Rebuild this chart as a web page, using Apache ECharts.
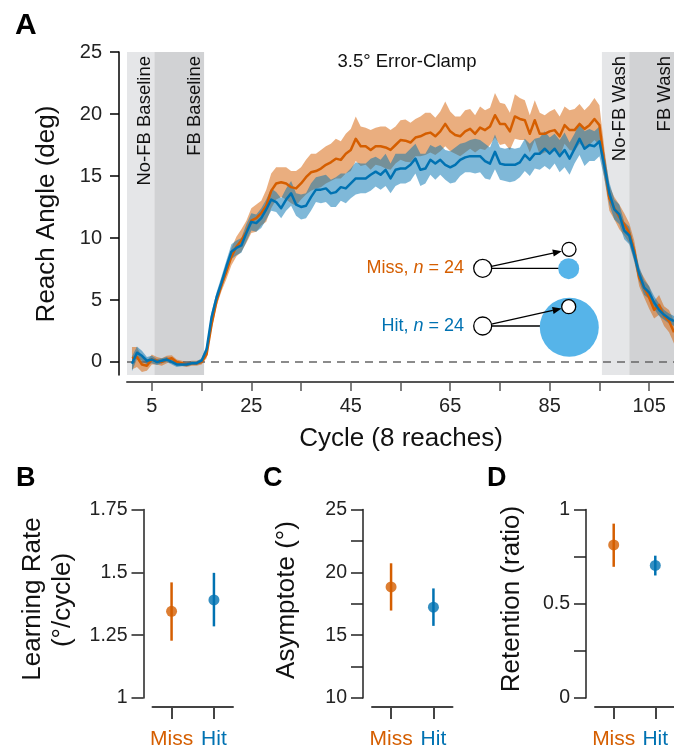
<!DOCTYPE html>
<html>
<head>
<meta charset="utf-8">
<script src="https://cdn.jsdelivr.net/npm/echarts@6/dist/echarts.min.js"></script>
<style>
html,body{margin:0;padding:0;background:#fff;}
#chart{width:674px;height:750px;}
</style>
</head>
<body>
<div id="chart"></div>
<script>
// ---------------- DATA ----------------
const cycles = [1,2,3,4,5,6,7,8,9,10,11,12,13,14,15,16,17,18,19,20,21,22,23,24,25,26,27,28,29,30,
31,32,33,34,35,36,37,38,39,40,41,42,43,44,45,46,47,48,49,50,51,52,53,54,55,56,57,58,59,60,
61,62,63,64,65,66,67,68,69,70,71,72,73,74,75,76,77,78,79,80,81,82,83,84,85,86,87,88,89,90,
91,92,93,94,95,96,97,98,99,100,101,102,103,104,105,106,107,108,109,110];

const missMean = [0.3,0.4,-0.2,-0.3,0.2,0.1,0.0,0.2,0.3,0.0,-0.1,-0.2,-0.1,-0.1,0.0,
0.6,3.0,4.9,6.2,7.3,8.5,9.3,9.8,10.5,11.4,11.6,12.0,12.6,13.8,14.4,
14.5,14.4,14.1,14.0,14.4,14.9,15.3,15.4,15.6,15.9,
16.1,16.4,16.3,16.8,17.1,18.0,17.4,17.4,17.1,17.4,17.4,17.3,17.1,17.5,17.9,17.85,17.7,18.1,18.2,18.4,
18.5,18.2,18.6,19.2,18.6,18.3,18.2,18.6,18.8,18.4,18.9,18.7,19.0,19.9,19.2,19.2,18.6,19.8,19.6,19.5,
18.4,19.5,18.4,18.4,18.6,18.7,18.2,19.1,18.7,18.7,19.2,18.8,19.1,19.6,19.1,
16.0,13.2,12.4,11.7,11.1,10.4,9.0,6.8,6.0,5.2,4.2,4.6,3.7,3.3,2.4];

const missSem = [0.9,0.8,0.6,0.4,0.4,0.3,0.3,0.3,0.25,0.2,0.2,0.2,0.2,0.2,0.2,
0.3,0.4,0.4,0.5,0.6,0.7,0.8,0.9,0.9,1.0,1.1,1.0,1.3,1.4,1.3,
1.2,1.3,1.3,1.4,1.3,1.4,1.5,1.4,1.5,1.5,
1.5,1.6,1.5,1.6,1.7,1.8,1.6,1.5,1.6,1.5,1.6,1.7,1.6,1.5,1.6,1.7,1.6,1.5,1.6,1.7,
1.6,1.5,1.6,1.8,1.6,1.5,1.6,1.7,1.6,1.5,1.7,1.6,1.5,1.8,1.7,1.6,1.5,1.8,1.7,1.6,
1.5,1.6,1.7,1.5,1.6,1.7,1.6,1.5,1.6,1.7,1.6,1.5,1.6,1.7,1.6,
1.2,1.0,0.9,1.0,0.9,0.8,0.8,0.7,0.8,0.9,0.7,0.8,0.8,0.9,0.9];

const hitMean = [-0.15,0.75,0.5,0.1,0.2,0.0,0.1,0.2,0.0,-0.2,-0.2,-0.2,-0.1,-0.1,0.1,
1.0,3.6,5.2,6.4,7.7,8.9,9.2,9.4,10.4,11.3,11.2,11.6,12.3,13.1,12.9,
12.4,13.1,13.6,12.7,12.5,12.6,13.3,13.9,13.9,14.0,
13.6,13.7,14.1,14.0,14.4,14.8,14.8,14.8,15.1,15.35,15.1,15.5,14.8,15.5,15.6,15.6,15.9,16.4,15.5,15.6,
16.3,16.0,16.3,15.9,15.7,15.9,16.3,16.5,16.6,16.6,16.6,16.2,16.0,16.95,16.0,15.9,15.9,15.9,16.1,16.7,
16.3,16.8,16.8,17.2,16.8,17.2,16.6,17.1,16.4,17.2,18.0,17.2,17.5,17.4,17.8,
15.8,13.6,12.3,11.9,10.6,10.2,8.7,7.1,6.0,5.6,4.8,4.2,3.8,3.5,3.3];

const hitSem = [0.6,0.5,0.4,0.3,0.3,0.25,0.2,0.2,0.2,0.2,0.15,0.15,0.15,0.15,0.2,
0.3,0.4,0.4,0.5,0.5,0.6,0.6,0.6,0.7,0.7,0.7,0.8,0.8,0.9,0.8,
0.8,0.9,1.0,0.9,1.0,1.0,1.1,1.0,1.1,1.1,
1.1,1.2,1.1,1.2,1.2,1.3,1.2,1.2,1.3,1.2,1.2,1.3,1.2,1.3,1.2,1.2,1.3,1.2,1.3,1.2,
1.2,1.3,1.2,1.2,1.3,1.4,1.3,1.2,1.3,1.4,1.3,1.4,1.3,1.4,1.3,1.3,1.4,1.3,1.2,1.3,
1.3,1.2,1.3,1.4,1.3,1.2,1.3,1.4,1.3,1.2,1.3,1.4,1.3,1.2,1.2,
1.0,0.9,0.8,0.8,0.7,0.7,0.6,0.6,0.6,0.5,0.5,0.5,0.4,0.4,0.4];

const phaseStart = [0, 5.5, 95.5, 101];
const phaseEnd   = [5.5, 15.5, 101, 110];
const phaseNames = ['No-FB Baseline', 'FB Baseline', 'No-FB Wash', 'FB Wash'];
const phaseIsFB  = [0, 1, 0, 1];
const clampLabel = '3.5° Error-Clamp';

const yTickVals = [0, 5, 10, 15, 20, 25];
const xTickVals = [5, 15, 25, 35, 45, 55, 65, 75, 85, 95, 105];
const xLabelVals = [5, 25, 45, 65, 85, 105];

const groups = ['Miss', 'Hit'];
const groupN = [24, 24];
const rateMean = [1.345, 1.39], rateLo = [1.228, 1.285], rateHi = [1.46, 1.498];
const asymMean = [18.84, 17.23], asymLo = [16.96, 15.74], asymHi = [20.72, 18.72];
const retMean = [0.812, 0.703], retLo = [0.696, 0.65], retHi = [0.925, 0.755];

// ---------------- STYLE ----------------
const FONT = "'Liberation Sans', Arial, Helvetica, sans-serif";
const ORANGE = '#D55E00', BLUE = '#0072B2', LIGHTBLUE = '#56B4E9';
const groupColors = [ORANGE, BLUE];
const shadeColors = ['#E5E6E8', '#D1D2D4'];

const chart = echarts.init(document.getElementById('chart'), null, {renderer: 'canvas'});

function bandSeries(mean, sem, color) {
  return {
    type: 'custom', xAxisIndex: 0, yAxisIndex: 0, silent: true, clip: true,
    data: cycles.map((c, i) => [c, mean[i] - sem[i], mean[i] + sem[i]]),
    encode: {x: 0, y: [1, 2]},
    renderItem: (params, api) => {
      if (params.dataIndex !== 0) return null;
      const up = [], lo = [];
      for (let i = 0; i < cycles.length; i++) {
        up.push(api.coord([cycles[i], mean[i] + sem[i]]));
        lo.push(api.coord([cycles[i], mean[i] - sem[i]]));
      }
      return {type: 'polygon', shape: {points: up.concat(lo.reverse())}, style: {fill: color}};
    }
  };
}
function lineSeries(mean, color) {
  return {
    type: 'line', xAxisIndex: 0, yAxisIndex: 0, silent: true,
    data: cycles.map((c, i) => [c, mean[i]]),
    showSymbol: false, symbol: 'none',
    lineStyle: {color: color, width: 2.5, join: 'round'}
  };
}

function panelAxes(idx, ymin, ymax, interval, labelVals) {
  const x = {
    type: 'value', gridIndex: idx, min: 0.55, max: 2.45, offset: 9,
    axisLine: {show: true, onZero: false, lineStyle: {color: '#444', width: 2}},
    axisTick: {show: true, length: 12, customValues: [1, 2], lineStyle: {color: '#444', width: 2}},
    axisLabel: {
      customValues: [1, 2], margin: 22, fontSize: 21, fontFamily: FONT,
      formatter: v => (Math.round(v) === 1 ? '{m|' + groups[0] + '}' : '{h|' + groups[1] + '}'),
      rich: {m: {color: ORANGE, fontSize: 21, fontFamily: FONT}, h: {color: BLUE, fontSize: 21, fontFamily: FONT}}
    },
    splitLine: {show: false}
  };
  const y = {
    type: 'value', gridIndex: idx, min: ymin, max: ymax, interval: interval, offset: 9,
    axisLine: {show: true, onZero: false, lineStyle: {color: '#222', width: 1.5}},
    axisTick: {show: true, length: 12, lineStyle: {color: '#222', width: 1.5}},
    axisLabel: {margin: 16, fontSize: 19.5, fontFamily: FONT, color: '#222'},
    splitLine: {show: false}
  };
  if (labelVals) y.axisLabel.customValues = labelVals;
  return [x, y];
}

function errSeries(idx, mean, lo, hi) {
  return [{
    type: 'custom', xAxisIndex: idx, yAxisIndex: idx, silent: true,
    data: groups.map((g, i) => [i + 1, lo[i], hi[i]]),
    encode: {x: 0, y: [1, 2]},
    renderItem: (params, api) => {
      const p1 = api.coord([api.value(0), api.value(1)]);
      const p2 = api.coord([api.value(0), api.value(2)]);
      return {type: 'line', shape: {x1: p1[0], y1: p1[1], x2: p2[0], y2: p2[1]},
              style: {stroke: groupColors[params.dataIndex], lineWidth: 2.5}};
    }
  }, {
    type: 'scatter', xAxisIndex: idx, yAxisIndex: idx, silent: true,
    symbolSize: 11,
    data: groups.map((g, i) => ({value: [i + 1, mean[i]], itemStyle: {color: groupColors[i]}}))
  }];
}

const pB = panelAxes(1, 1, 1.75, 0.25, null);
const pC = panelAxes(2, 10, 25, 2.5, [10, 15, 20, 25]);
const pD = panelAxes(3, 0, 1, 0.25, [0, 0.5, 1]);

// inset drawing helpers (annotation, not data)
function arrow(x1, y1, x2, y2) {
  const ang = Math.atan2(y2 - y1, x2 - x1), L = 9, W = 3.6;
  const bx = x2 - L * Math.cos(ang), by = y2 - L * Math.sin(ang);
  const nx = -Math.sin(ang) * W, ny = Math.cos(ang) * W;
  return [
    {type: 'line', shape: {x1, y1, x2: bx, y2: by}, style: {stroke: '#000', lineWidth: 1.3}, z: 20},
    {type: 'polygon', shape: {points: [[x2, y2], [bx + nx, by + ny], [bx - nx, by - ny]]}, style: {fill: '#000'}, z: 20}
  ];
}
function openCircle(cx, cy, r) {
  return {type: 'circle', shape: {cx, cy, r}, style: {fill: '#fff', stroke: '#000', lineWidth: 1.3}, z: 21};
}

const graphics = [
  {type: 'text', x: 15, y: 26, style: {text: 'A', fontSize: 30, fontWeight: 'bold', fontFamily: FONT, fill: '#000', verticalAlign: 'middle'}},
  {type: 'text', x: 16, y: 479, style: {text: 'B', fontSize: 27, fontWeight: 'bold', fontFamily: FONT, fill: '#000', verticalAlign: 'middle'}},
  {type: 'text', x: 263, y: 479, style: {text: 'C', fontSize: 27, fontWeight: 'bold', fontFamily: FONT, fill: '#000', verticalAlign: 'middle'}},
  {type: 'text', x: 487, y: 479, style: {text: 'D', fontSize: 27, fontWeight: 'bold', fontFamily: FONT, fill: '#000', verticalAlign: 'middle'}},
  {type: 'text', x: 407, y: 62, style: {text: clampLabel, fontSize: 18.5, fontFamily: FONT, fill: '#111', align: 'center', verticalAlign: 'middle'}},
  {type: 'text', x: 47, y: 214, rotation: Math.PI / 2, style: {text: 'Reach Angle (deg)', fontSize: 26, fontFamily: FONT, fill: '#111', align: 'center', verticalAlign: 'middle'}},
  {type: 'text', x: 401, y: 439, style: {text: 'Cycle (8 reaches)', fontSize: 26, fontFamily: FONT, fill: '#111', align: 'center', verticalAlign: 'middle'}},
  {type: 'text', x: 33, y: 599, rotation: Math.PI / 2, style: {text: 'Learning Rate', fontSize: 26, fontFamily: FONT, fill: '#111', align: 'center', verticalAlign: 'middle'}},
  {type: 'text', x: 63, y: 600, rotation: Math.PI / 2, style: {text: '(°/cycle)', fontSize: 26, fontFamily: FONT, fill: '#111', align: 'center', verticalAlign: 'middle'}},
  {type: 'text', x: 287, y: 600, rotation: Math.PI / 2, style: {text: 'Asymptote (°)', fontSize: 26, fontFamily: FONT, fill: '#111', align: 'center', verticalAlign: 'middle'}},
  {type: 'text', x: 512, y: 599, rotation: Math.PI / 2, style: {text: 'Retention (ratio)', fontSize: 26, fontFamily: FONT, fill: '#111', align: 'center', verticalAlign: 'middle'}},
  // inset legend
  {type: 'text', x: 464, y: 268, z: 20, style: {text: groups[0] + ', {i|n} = ' + groupN[0], fontSize: 18, fontFamily: FONT, fill: ORANGE, align: 'right', verticalAlign: 'middle',
     rich: {i: {fontStyle: 'italic', fontSize: 18, fontFamily: FONT, fill: ORANGE}}}},
  {type: 'text', x: 464, y: 326, z: 20, style: {text: groups[1] + ', {i|n} = ' + groupN[1], fontSize: 18, fontFamily: FONT, fill: BLUE, align: 'right', verticalAlign: 'middle',
     rich: {i: {fontStyle: 'italic', fontSize: 18, fontFamily: FONT, fill: BLUE}}}},
  // miss schematic
  {type: 'line', shape: {x1: 491.7, y1: 268.3, x2: 560, y2: 268.3}, style: {stroke: '#000', lineWidth: 1.3}, z: 19},
  {type: 'circle', shape: {cx: 568.7, cy: 268.7, r: 10.5}, style: {fill: LIGHTBLUE}, z: 20},
  openCircle(482.7, 268.3, 9),
  openCircle(569, 249.3, 7),
  ...arrow(491.4, 266.4, 561.8, 251.2),
  // hit schematic
  {type: 'line', shape: {x1: 491.7, y1: 326, x2: 542, y2: 326}, style: {stroke: '#000', lineWidth: 1.3}, z: 19},
  {type: 'circle', shape: {cx: 569.3, cy: 327.3, r: 29.5}, style: {fill: LIGHTBLUE}, z: 20},
  openCircle(482.7, 326, 9),
  openCircle(568.7, 306.7, 7),
  ...arrow(491.4, 324.2, 561.6, 308.5)
];

const option = {
  animation: false,
  backgroundColor: '#fff',
  textStyle: {fontFamily: FONT},
  grid: [
    {left: 127, top: 52, width: 548, height: 323},
    {left: 152.5, top: 509.5, width: 80.5, height: 191},
    {left: 372, top: 509.5, width: 80.5, height: 191},
    {left: 595, top: 509.5, width: 80.5, height: 191}
  ],
  xAxis: [
    {type: 'value', gridIndex: 0, min: 0, max: 110, offset: 7,
     axisLine: {show: true, onZero: false, lineStyle: {color: '#555', width: 2}},
     axisTick: {show: true, length: 9, customValues: xTickVals, lineStyle: {color: '#555', width: 1.5}},
     axisLabel: {customValues: xLabelVals, margin: 14, fontSize: 20, fontFamily: FONT, color: '#222'},
     splitLine: {show: false}},
    pB[0], pC[0], pD[0]
  ],
  yAxis: [
    {type: 'value', gridIndex: 0, min: -1.05, max: 25, offset: 8,
     axisLine: {show: true, onZero: false, lineStyle: {color: '#000', width: 1.5}},
     axisTick: {show: true, length: 9, customValues: yTickVals, lineStyle: {color: '#000', width: 1.5}},
     axisLabel: {customValues: yTickVals, margin: 17, fontSize: 20, fontFamily: FONT, color: '#222'},
     splitLine: {show: false}},
    pB[1], pC[1], pD[1]
  ],
  series: [
    {
      type: 'custom', xAxisIndex: 0, yAxisIndex: 0, silent: true, clip: true,
      data: phaseStart.map((s, i) => [s, phaseEnd[i], phaseIsFB[i]]),
      encode: {x: [0, 1]},
      renderItem: (params, api) => {
        const i = params.dataIndex;
        const p1 = api.coord([api.value(0), 25]);
        const p2 = api.coord([api.value(1), -1.05]);
        return {type: 'group', children: [
          {type: 'rect', shape: {x: p1[0], y: p1[1], width: p2[0] - p1[0], height: p2[1] - p1[1]},
           style: {fill: shadeColors[api.value(2)]}},
          {type: 'text', x: p2[0] - 9, y: p1[1] + 4, rotation: Math.PI / 2,
           style: {text: phaseNames[i], fontSize: 18.5, fontFamily: FONT, fill: '#111', align: 'right', verticalAlign: 'middle'}}
        ]};
      }
    },
    {type: 'line', xAxisIndex: 0, yAxisIndex: 0, silent: true, symbol: 'none',
     data: [[0, 0], [110, 0]], lineStyle: {color: '#666', width: 1.3, type: [8, 6]}},
    bandSeries(missMean, missSem, 'rgba(213,94,0,0.5)'),
    bandSeries(hitMean, hitSem, 'rgba(0,114,178,0.5)'),
    lineSeries(missMean, ORANGE),
    lineSeries(hitMean, BLUE),
    ...errSeries(1, rateMean, rateLo, rateHi),
    ...errSeries(2, asymMean, asymLo, asymHi),
    ...errSeries(3, retMean, retLo, retHi)
  ],
  graphic: graphics
};
chart.setOption(option);
</script>
</body>
</html>
